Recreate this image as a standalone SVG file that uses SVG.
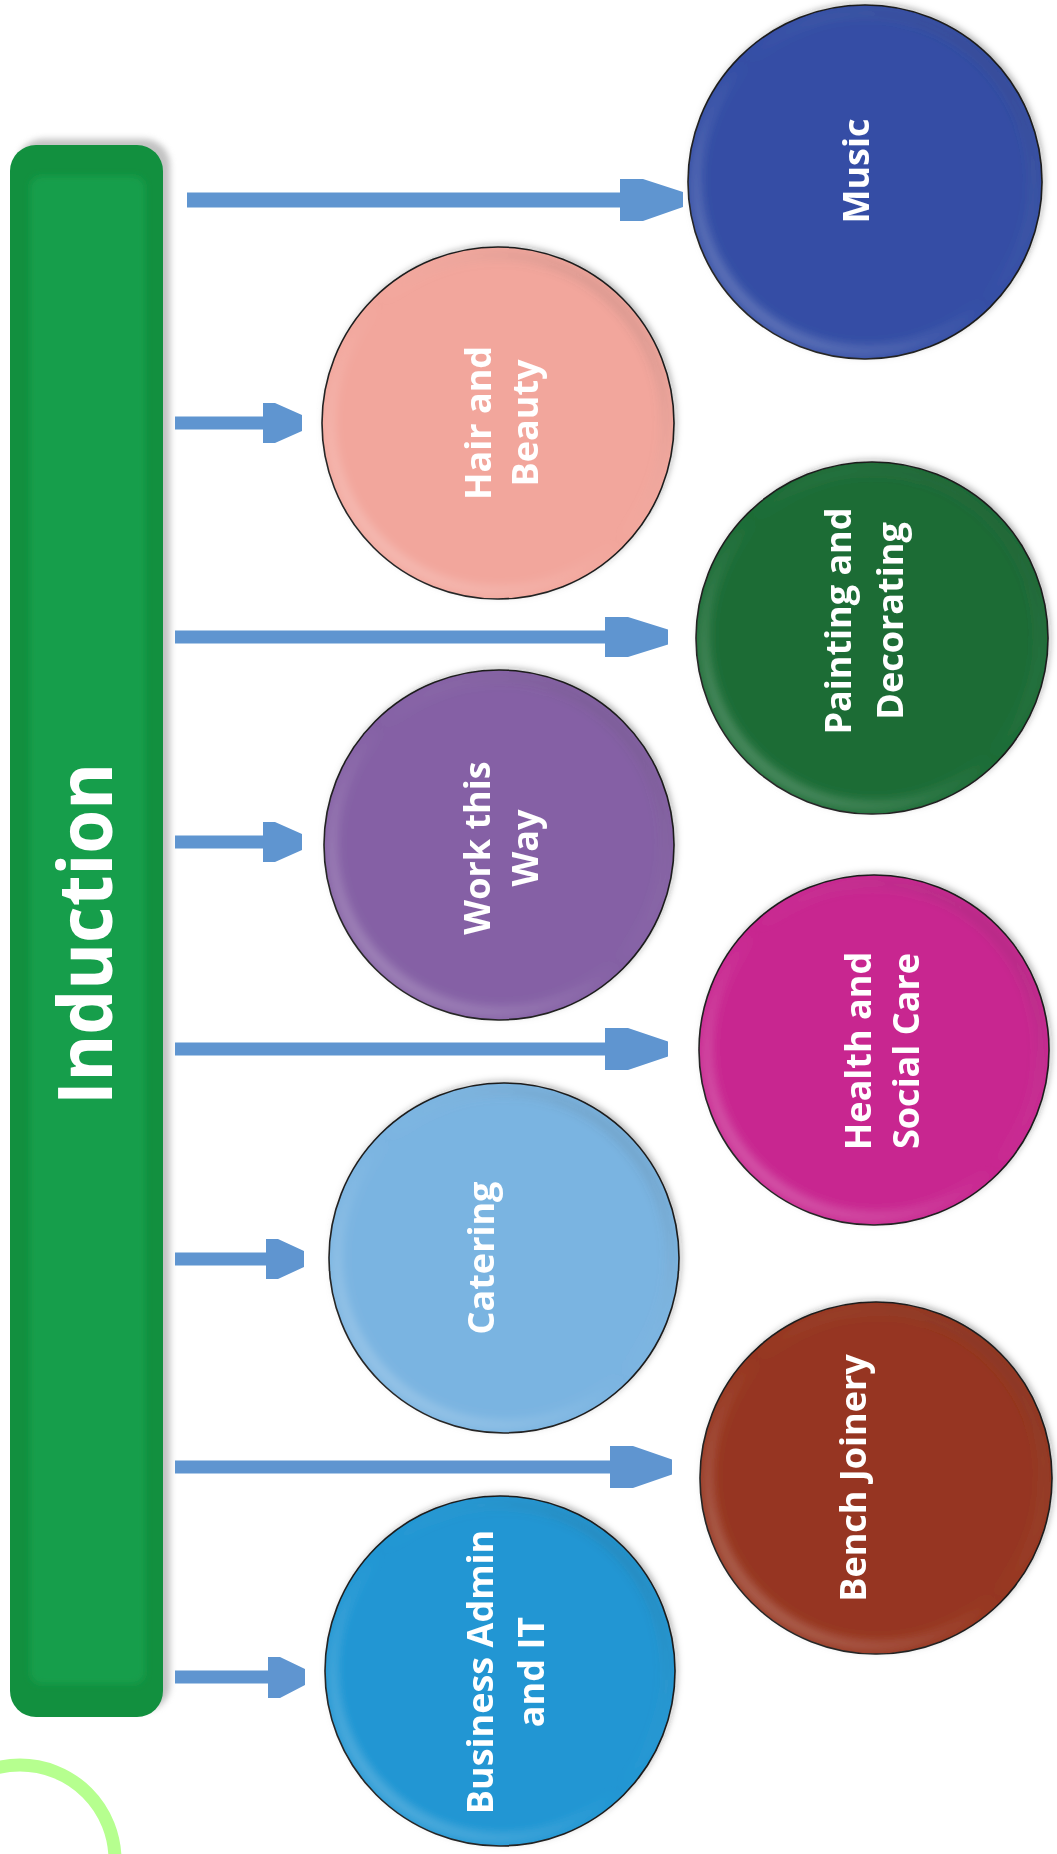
<svg xmlns="http://www.w3.org/2000/svg" width="1057" height="1854" viewBox="0 0 1057 1854">
  <defs>
    <style>
      .arrow { fill: #5f95d0; }
      .node { stroke: #1a1a1a; stroke-width: 1.6; }
      .rim { fill: none; stroke: url(#rimGrad); stroke-width: 12; }
      .label { font-family: "Open Sans", "Noto Sans", "Liberation Sans", sans-serif; font-weight: 700; font-size: 36px; fill: #ffffff; text-anchor: middle; }
      .title { font-family: "Open Sans", "Noto Sans", "Liberation Sans", sans-serif; font-weight: 700; font-size: 76px; fill: #ffffff; text-anchor: middle; }
    </style>
    <linearGradient id="rimGrad" x1="0" y1="1" x2="1" y2="0">
      <stop offset="0" stop-color="#ffffff" stop-opacity="0.28"/>
      <stop offset="0.5" stop-color="#ffffff" stop-opacity="0"/>
      <stop offset="1" stop-color="#000000" stop-opacity="0.18"/>
    </linearGradient>
    <filter id="soft" x="-10%" y="-10%" width="120%" height="120%">
      <feGaussianBlur stdDeviation="4"/>
    </filter>
    <filter id="shadow" x="-10%" y="-10%" width="120%" height="120%">
      <feDropShadow dx="2" dy="-2" stdDeviation="3" flood-color="#000" flood-opacity="0.25"/>
    </filter>
    <filter id="barShadow" x="-20%" y="-5%" width="140%" height="110%">
      <feGaussianBlur stdDeviation="3"/>
    </filter>
  </defs>

  <rect x="0" y="0" width="1057" height="1854" fill="#ffffff"/>

  <!-- decorative light green arc -->
  <circle cx="20" cy="1860" r="95" fill="none" stroke="#b6ff8f" stroke-width="13"/>

  <!-- Induction bar -->
  <g id="induction">
    <rect x="17" y="139" width="153" height="1572" rx="26" fill="#9a9a9a" opacity="0.6" filter="url(#barShadow)"/>
    <rect x="10" y="145" width="153" height="1572" rx="26" fill="#12903f"/>
    <rect x="30" y="176" width="115" height="1508" rx="12" fill="#199e4c" filter="url(#barShadow)"/>
    <text class="title" transform="translate(112,934) rotate(-90)" textLength="342" lengthAdjust="spacingAndGlyphs">Induction</text>
  </g>

  <!-- connectors -->
  <g id="connectors">
    <path class="arrow" d="M187 192.5 H620 V179 H643 L683 192 V207 L643 221 H620 V207.5 H187 Z"/>
    <path class="arrow" d="M175 416.5 H263 V403 H275 L302 415 V431 L275 443 H263 V429.5 H175 Z"/>
    <path class="arrow" d="M175 630.5 H605 V617 H628 L668 629.5 V644.5 L628 657 H605 V643.5 H175 Z"/>
    <path class="arrow" d="M175 835.5 H263 V822 H275 L302 834 V850 L275 862 H263 V848.5 H175 Z"/>
    <path class="arrow" d="M175 1042.5 H605 V1028 H628 L668 1041.5 V1056.5 L628 1070 H605 V1055.5 H175 Z"/>
    <path class="arrow" d="M175 1252.5 H266 V1239 H278 L304 1251 V1267 L278 1279 H266 V1265.5 H175 Z"/>
    <path class="arrow" d="M175 1460.5 H610 V1446 H633 L672 1459.5 V1474.5 L633 1488 H610 V1473.5 H175 Z"/>
    <path class="arrow" d="M175 1670.5 H268 V1657 H280 L305 1669 V1685 L280 1698 H268 V1683.5 H175 Z"/>
  </g>

  <!-- nodes -->
  <g id="music" filter="url(#shadow)">
    <circle class="node" cx="865" cy="182" r="177" fill="#344ea5"/>
    <circle class="rim" cx="865" cy="182" r="169" filter="url(#soft)"/>
    <text class="label" transform="translate(869,171) rotate(-90)">Music</text>
  </g>

  <g id="hair-and-beauty" filter="url(#shadow)">
    <circle class="node" cx="498" cy="423" r="176" fill="#f2a69c"/>
    <circle class="rim" cx="498" cy="423" r="168" filter="url(#soft)"/>
    <text class="label" transform="translate(491,423) rotate(-90)"><tspan x="0" y="0">Hair and</tspan><tspan x="0" y="47">Beauty</tspan></text>
  </g>

  <g id="painting-and-decorating" filter="url(#shadow)">
    <circle class="node" cx="872" cy="638" r="176" fill="#1c6c36"/>
    <circle class="rim" cx="872" cy="638" r="168" filter="url(#soft)"/>
    <text class="label" transform="translate(851,621) rotate(-90)"><tspan x="0" y="0">Painting and</tspan><tspan x="0" y="52">Decorating</tspan></text>
  </g>

  <g id="work-this-way" filter="url(#shadow)">
    <circle class="node" cx="499" cy="845" r="175" fill="#8561a5"/>
    <circle class="rim" cx="499" cy="845" r="167" filter="url(#soft)"/>
    <text class="label" transform="translate(490,848) rotate(-90)"><tspan x="0" y="0">Work this</tspan><tspan x="0" y="48">Way</tspan></text>
  </g>

  <g id="health-and-social-care" filter="url(#shadow)">
    <circle class="node" cx="874" cy="1050" r="175" fill="#c82790"/>
    <circle class="rim" cx="874" cy="1050" r="167" filter="url(#soft)"/>
    <text class="label" transform="translate(871,1051) rotate(-90)"><tspan x="0" y="0">Health and</tspan><tspan x="0" y="48">Social Care</tspan></text>
  </g>

  <g id="catering" filter="url(#shadow)">
    <circle class="node" cx="504" cy="1258" r="175" fill="#7ab4e1"/>
    <circle class="rim" cx="504" cy="1258" r="167" filter="url(#soft)"/>
    <text class="label" transform="translate(494,1258) rotate(-90)">Catering</text>
  </g>

  <g id="bench-joinery" filter="url(#shadow)">
    <circle class="node" cx="876" cy="1478" r="176" fill="#963620"/>
    <circle class="rim" cx="876" cy="1478" r="168" filter="url(#soft)"/>
    <text class="label" transform="translate(866,1478) rotate(-90)">Bench Joinery</text>
  </g>

  <g id="business-admin-and-it" filter="url(#shadow)">
    <circle class="node" cx="500" cy="1671" r="175" fill="#2196d3"/>
    <circle class="rim" cx="500" cy="1671" r="167" filter="url(#soft)"/>
    <text class="label" transform="translate(493,1672) rotate(-90)"><tspan x="0" y="0">Business Admin</tspan><tspan x="0" y="51">and IT</tspan></text>
  </g>
</svg>
